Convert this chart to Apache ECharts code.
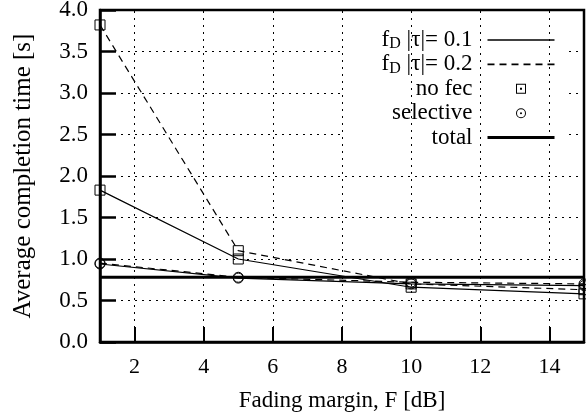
<!DOCTYPE html>
<html>
<head>
<meta charset="utf-8">
<script src="https://cdn.jsdelivr.net/npm/echarts@6/dist/echarts.min.js"></script>
<style>
  html, body { margin: 0; padding: 0; background: #fff; }
  #chart { width: 586px; height: 417px; }
</style>
</head>
<body>
<div id="chart"></div>
<script>
// fading margin F [dB]
var margins = [1, 5, 10, 15];
// average completion time [s]
var noFec01 = [1.83, 1.00, 0.66, 0.58];
var noFec02 = [3.82, 1.10, 0.70, 0.63];
var sel01 = [0.94, 0.77, 0.70, 0.68];
var sel02 = [0.95, 0.78, 0.72, 0.70];
var totalX = [1, 15];
var totalY = [0.78, 0.78];
var xTicks = [2, 4, 6, 8, 10, 12, 14];

var font = "Liberation Serif";
var squareDot = "path://M0,0H10V10H0Z M1,1V9H9V1Z M4,4H6V6H4Z";
var circleDot = "path://M5,0A5,5 0 1 1 5,10A5,5 0 1 1 5,0Z M5,1A4,4 0 1 0 5,9A4,4 0 1 0 5,1Z M5,4A1,1 0 1 1 5,6A1,1 0 1 1 5,4Z";

function pairs(xs, ys) {
  return xs.map(function (x, i) { return [x, ys[i]]; });
}

function curve(name, ys, dashed, symbol) {
  return {
    name: name,
    type: "line",
    data: pairs(margins, ys),
    symbol: symbol,
    symbolSize: 10,
    showAllSymbol: true,
    lineStyle: { color: "#000", width: 1.2, type: dashed ? [7, 5] : "solid" },
    itemStyle: { color: "rgba(0,0,0,0)", borderColor: "#000", borderWidth: 1 },
    emphasis: { disabled: true },
    z: 3
  };
}

var legendNames = {
  "fd01": "f{sub|D} |τ|= 0.1",
  "fd02": "f{sub|D} |τ|= 0.2",
  "no fec": "no fec",
  "selective": "selective",
  "total": "total"
};

var chart = echarts.init(document.getElementById("chart"), null, { renderer: "canvas" });
chart.setOption({
  animation: false,
  backgroundColor: "#fff",
  textStyle: { fontFamily: font, color: "#000" },
  grid: {
    left: 100, right: 2, top: 10, bottom: 75,
    outerBoundsMode: "none",
    containLabel: false,
    show: true, borderColor: "#000", borderWidth: 2.5,
    backgroundColor: "rgba(0,0,0,0)"
  },
  legend: {
    orient: "vertical",
    right: 21, top: 27,
    align: "right",
    itemWidth: 67, itemHeight: 10, itemGap: 0.4,
    padding: [1, 9, 2, 40],
    backgroundColor: "#fff",
    selectedMode: false,
    formatter: function (n) { return legendNames[n]; },
    textStyle: {
      fontFamily: font, fontSize: 23, lineHeight: 24, color: "#000", padding: [0, 10, 0, 0],
      rich: { sub: { fontFamily: font, fontSize: 16, verticalAlign: "bottom", padding: [8, 0, 0, 0] } }
    },
    data: [
      { name: "fd01", itemStyle: { opacity: 0 }, lineStyle: { width: 1.6, color: "#000" } },
      { name: "fd02", itemStyle: { opacity: 0 }, lineStyle: { width: 1.6, color: "#000" } },
      { name: "no fec", icon: squareDot, itemStyle: { color: "#000", opacity: 1 } },
      { name: "selective", icon: circleDot, itemStyle: { color: "#000", opacity: 1 } },
      { name: "total", itemStyle: { opacity: 0 }, lineStyle: { width: 3, color: "#000" } }
    ]
  },
  xAxis: {
    type: "value",
    min: 1, max: 15,
    name: "Fading margin, F [dB]",
    nameLocation: "middle",
    nameGap: 47,
    nameTextStyle: { fontFamily: font, fontSize: 23, color: "#000" },
    axisLine: { show: true, onZero: false, lineStyle: { color: "#000", width: 2.5 } },
    axisTick: { show: true, inside: true, length: 15, customValues: xTicks, lineStyle: { color: "#000", width: 2 } },
    axisLabel: { customValues: xTicks, fontFamily: font, fontSize: 22, color: "#000", margin: 14 },
    splitLine: { show: false }
  },
  yAxis: {
    type: "value",
    min: 0, max: 4, interval: 0.5,
    name: "Average completion time [s]",
    nameLocation: "middle",
    nameGap: 64,
    nameTextStyle: { fontFamily: font, fontSize: 25, color: "#000" },
    axisLine: { show: true, lineStyle: { color: "#000", width: 2.5 } },
    axisTick: { show: true, inside: true, length: 16, lineStyle: { color: "#000", width: 2.5 } },
    axisLabel: {
      fontFamily: font, fontSize: 23, color: "#000", margin: 12,
      formatter: function (v) { return v.toFixed(1); }
    },
    splitLine: { show: true, lineStyle: { color: "#000", width: 1, type: [2, 5] } }
  },
  series: [
    {
      name: "grid",
      type: "line",
      data: [],
      silent: true,
      markLine: {
        silent: true,
        symbol: "none",
        label: { show: false },
        lineStyle: { color: "#000", width: 1, type: [2, 5] },
        data: xTicks.map(function (v) { return { xAxis: v }; })
      },
      z: 1
    },
    curve("noFec01", noFec01, false, "rect"),
    curve("noFec02", noFec02, true, "rect"),
    curve("sel01", sel01, false, "circle"),
    curve("sel02", sel02, true, "circle"),
    {
      name: "total",
      type: "line",
      data: pairs(totalX, totalY),
      symbol: "none",
      lineStyle: { color: "#000", width: 3 },
      itemStyle: { color: "#000" },
      z: 4
    },
    { name: "fd01", type: "line", data: [], symbol: "none", lineStyle: { color: "#000", width: 1.2 }, itemStyle: { color: "#000" } },
    { name: "fd02", type: "line", data: [], symbol: "none", lineStyle: { color: "#000", width: 1.2, type: [7, 5] }, itemStyle: { color: "#000" } },
    { name: "no fec", type: "line", data: [], symbol: "rect", lineStyle: { width: 0 }, itemStyle: { color: "#000" } },
    { name: "selective", type: "line", data: [], symbol: "circle", lineStyle: { width: 0 }, itemStyle: { color: "#000" } }
  ]
});
</script>
</body>
</html>
